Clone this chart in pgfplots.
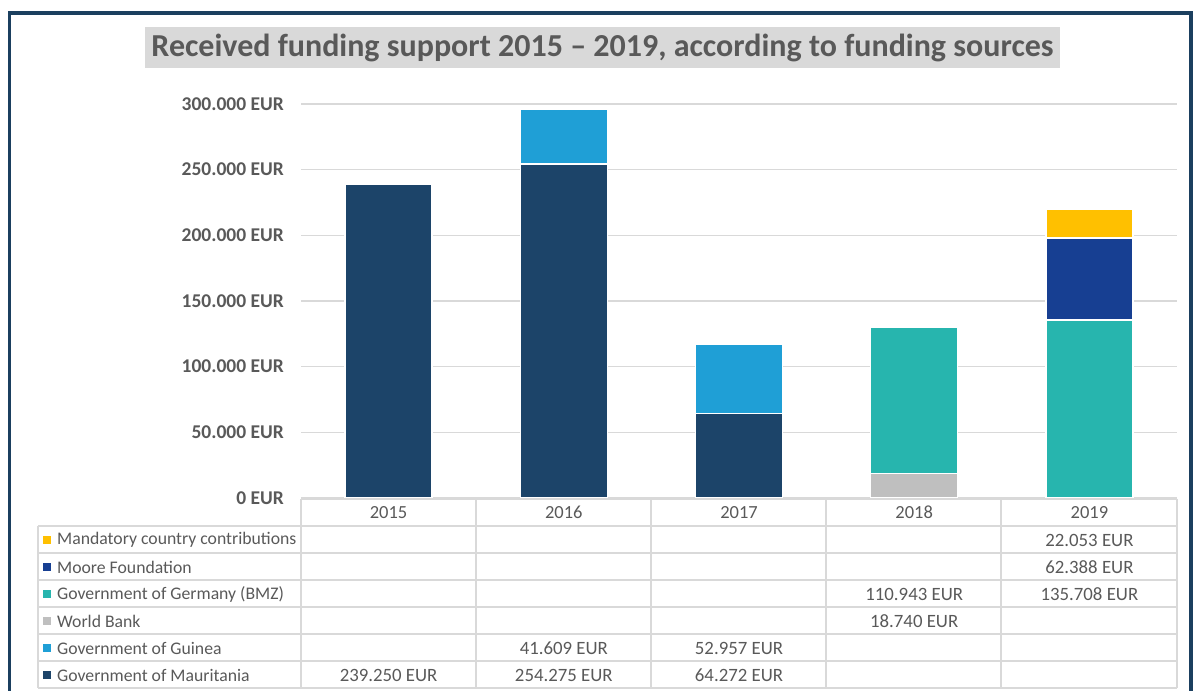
\documentclass[border=0pt]{standalone}
\usepackage{fontspec}
\setmainfont{Carlito}
\usepackage{pgfplots}
\pgfplotsset{compat=1.18}
\definecolor{cMau}{HTML}{1C4469}
\definecolor{cGui}{HTML}{1F9FD6}
\definecolor{cWB}{HTML}{BFBFBF}
\definecolor{cGer}{HTML}{27B5AE}
\definecolor{cMoo}{HTML}{173F92}
\definecolor{cMan}{HTML}{FFC000}
\definecolor{txt}{HTML}{595959}
\definecolor{gridc}{HTML}{D9D9D9}
\definecolor{framec}{HTML}{1B3F5F}
\begin{document}
\begin{tikzpicture}[x=1bp,y=1bp]
\path[use as bounding box] (0,0) rectangle (1194,691);
\draw[framec, line width=3.5bp] (9.5,-20) -- (9.5,678) -- (1191,678) -- (1191,-20);
\fill[gridc] (145,664) rectangle (1060,623);
\node[txt, font=\fontsize{32bp}{36bp}\selectfont\bfseries] at (602.5,643.5) {Received funding support 2015 – 2019, according to funding sources};
\begin{axis}[
  at={(301bp,193bp)}, anchor=south west, scale only axis,
  width=876bp, height=394bp,
  xmin=-0.5, xmax=4.5, ymin=0, ymax=300000,
  ybar stacked, bar width=87bp,
  axis line style={draw=none}, tick style={draw=none},
  ymajorgrids, grid style={gridc, line width=1.5bp},
  scaled y ticks=false,
  ytick={0,50000,100000,150000,200000,250000,300000},
  yticklabels={\textbf{0 EUR},\textbf{50.000 EUR},\textbf{100.000 EUR},\textbf{150.000 EUR},\textbf{200.000 EUR},\textbf{250.000 EUR},\textbf{300.000 EUR}},
  yticklabel style={txt, font=\fontsize{19.5bp}{22bp}\selectfont, inner sep=0pt, xshift=-17bp},
  xtick={0,1,2,3,4},
  xticklabels={2015,2016,2017,2018,2019},
  xticklabel style={txt, font=\fontsize{18.5bp}{21bp}\selectfont, anchor=base, inner sep=0pt, yshift=-21bp},
  every axis plot/.append style={draw=white, line width=1.5bp},
  clip=false,
]
\addplot[fill=cMau] coordinates {(0,239250) (1,254275) (2,64272) (3,0) (4,0)};
\addplot[fill=cGui] coordinates {(0,0) (1,41609) (2,52957) (3,0) (4,0)};
\addplot[fill=cWB] coordinates {(0,0) (1,0) (2,0) (3,18740) (4,0)};
\addplot[fill=cGer] coordinates {(0,0) (1,0) (2,0) (3,110943) (4,135708)};
\addplot[fill=cMoo] coordinates {(0,0) (1,0) (2,0) (3,0) (4,62388)};
\addplot[fill=cMan] coordinates {(0,0) (1,0) (2,0) (3,0) (4,22053)};
\end{axis}
% table grid
\begin{scope}[gridc, line width=1.5bp]
\draw (301,192) -- (1177,192);
\foreach \yy in {165,138,111,84,57,30,3} \draw (38,\yy) -- (1177,\yy);
\draw (38,165) -- (38,3);
\foreach \xx in {301,476,651,826,1001,1177} \draw (\xx,192) -- (\xx,3);
\end{scope}
\begin{scope}[every node/.style={txt, inner sep=0pt}]
\foreach \yy/\cc/\lab in {151/cMan/Mandatory country contributions, 124/cMoo/Moore Foundation, 97/cGer/Government of Germany (BMZ), 70/cWB/World Bank, 43/cGui/Government of Guinea, 16/cMau/Government of Mauritania} {
  \fill[\cc] (43,\yy-4) rectangle (51,\yy+4);
  \node[anchor=west, font=\fontsize{17.7bp}{20bp}\selectfont] at (57,\yy) {\lab};
}
\foreach \xx/\yy/\vv in {388.6/16/239.250 EUR, 563.8/16/254.275 EUR, 739/16/64.272 EUR, 563.8/43/41.609 EUR, 739/43/52.957 EUR, 914.2/70/18.740 EUR, 914.2/97/110.943 EUR, 1089.4/97/135.708 EUR, 1089.4/124/62.388 EUR, 1089.4/151/22.053 EUR} {
  \node[font=\fontsize{18.8bp}{21bp}\selectfont] at (\xx,\yy) {\vv};
}
\end{scope}
\end{tikzpicture}
\end{document}
